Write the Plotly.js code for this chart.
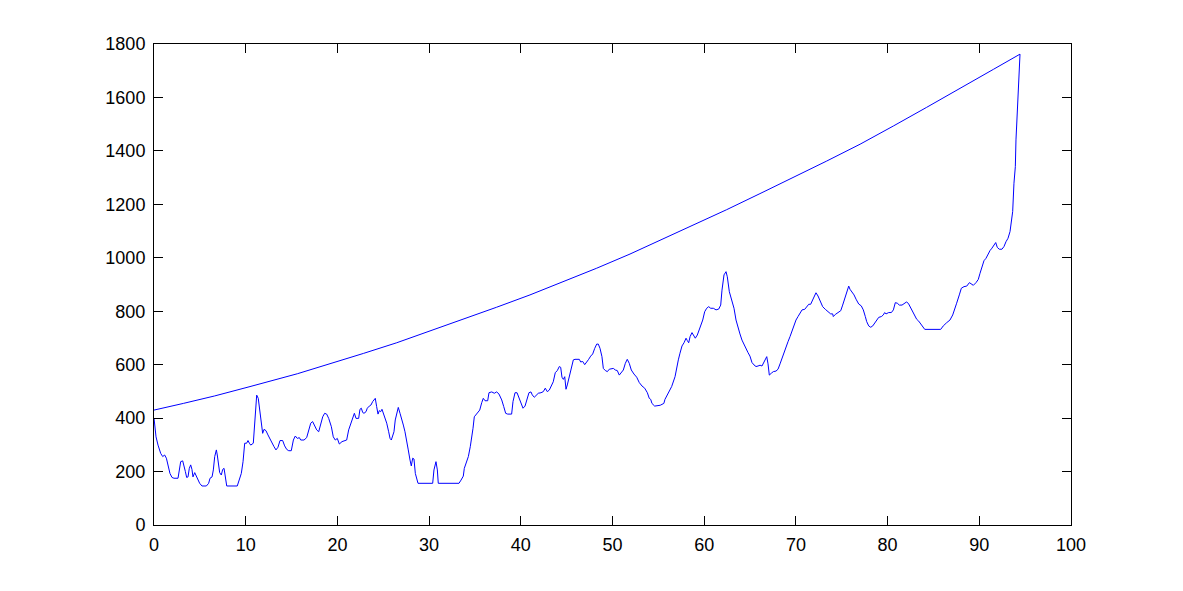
<!DOCTYPE html>
<html>
<head>
<meta charset="utf-8">
<script src="https://cdn.plot.ly/plotly-3.0.1.min.js"></script>
<style>html,body{margin:0;padding:0;background:#fff;}#chart{width:1183px;height:591px;}</style>
</head>
<body>
<div id="chart"></div>
<script>
// Lower path (traced left to right)
const lowerX = [0,0.07,0.22,0.44,0.73,0.95,1.16,1.35,1.53,1.74,1.96,2.18,2.62,2.76,2.91,3.13,3.27,3.42,3.56,3.71,3.85,4.0,4.14,4.25,4.44,4.62,4.80,4.98,5.23,5.71,5.96,6.11,6.33,6.47,6.62,6.80,6.90,7.05,7.16,7.34,7.49,7.64,7.78,7.93,9.08,9.34,9.52,9.71,9.89,10.1,10.25,10.4,10.55,10.83,10.98,11.2,11.37,11.56,11.7,11.85,12.0,12.21,12.43,12.65,12.87,13.09,13.3,13.52,13.74,14.03,14.25,14.47,14.69,14.97,15.2,15.41,15.63,15.85,16.0,16.36,16.65,16.87,17.09,17.3,17.52,17.74,17.96,18.18,18.4,18.61,18.83,19.05,19.34,19.55,19.77,19.99,20.21,20.5,21.01,21.23,21.45,21.67,21.85,22.03,22.32,22.46,22.61,22.76,22.9,23.12,23.26,23.48,23.66,23.85,24.13,24.28,24.43,24.57,24.72,24.86,25.0,25.16,25.38,25.59,25.74,25.88,26.03,26.17,26.31,26.47,26.64,26.83,27.01,27.19,27.37,27.56,27.73,27.92,28.06,28.21,28.35,28.5,28.65,28.79,30.39,30.53,30.75,30.9,31.0,33.26,33.48,33.73,33.84,34.06,34.28,34.49,34.65,34.79,34.93,35.08,35.3,35.52,35.74,35.91,36.1,36.39,36.53,36.83,37.11,37.37,37.62,37.92,38.14,38.35,38.57,39.0,39.15,39.37,39.59,39.8,40.02,40.24,40.46,40.68,40.89,41.11,41.25,41.47,41.69,41.91,42.2,42.45,42.67,42.89,43.11,43.33,43.54,43.76,43.98,44.2,44.35,44.49,44.64,44.79,44.93,45.07,45.29,45.51,45.73,45.91,46.38,46.53,46.75,46.97,47.18,47.4,47.62,47.84,48.06,48.28,48.45,48.64,48.85,49.0,49.22,49.44,49.65,49.87,50.09,50.31,50.52,50.74,50.96,51.18,51.4,51.61,51.83,52.05,52.34,52.64,52.92,53.22,53.51,53.8,54.01,54.17,54.3,54.6,55.2,55.6,55.72,56.09,56.45,56.82,57.0,57.18,57.36,57.58,57.8,58.02,58.16,58.31,58.46,58.67,58.82,59.03,59.25,59.47,59.69,59.84,60.05,60.27,60.49,60.71,61.0,61.29,61.58,61.8,61.94,62.16,62.38,62.52,62.74,63.03,63.25,63.47,63.69,63.9,64.12,64.34,64.56,64.78,64.99,65.21,65.43,65.65,65.87,66.09,66.3,66.45,66.67,66.82,66.96,67.1,67.32,67.54,67.83,68.05,68.27,68.48,68.7,68.92,69.14,69.36,69.57,69.79,70.01,70.23,70.45,70.67,70.96,71.18,71.4,71.61,71.83,72.05,72.19,72.41,72.63,72.92,73.21,73.5,73.79,74.01,74.08,74.3,74.59,74.89,75.1,75.32,75.54,75.76,75.9,76.12,76.34,76.56,76.85,77.13,77.35,77.57,77.72,77.94,78.16,78.38,78.59,78.81,79.03,79.32,79.53,79.68,79.83,80.12,80.41,80.63,80.84,81.06,81.28,81.57,81.87,82.08,82.3,82.52,82.74,82.95,83.17,83.39,83.61,83.83,84.05,85.79,86.07,86.44,86.8,87.1,87.32,87.53,87.82,88.04,88.33,88.63,88.92,89.13,89.35,89.64,89.89,90.08,90.29,90.51,90.73,90.95,91.17,91.38,91.6,91.79,91.96,92.18,92.47,92.69,92.91,93.13,93.35,93.49,93.64,93.78,93.93,94.0,94.14,94.29,94.44];
const lowerY = [400,380,330,299,268,256,262,250,218,193,178,175,175,206,237,240,225,200,178,180,212,225,208,180,196,181,168,156,146,146,156,175,180,206,256,281,262,218,196,187,208,212,168,146,146,175,193,237,306,306,316,306,299,306,393,486,474,418,381,343,358,353,337,321,306,293,281,291,316,316,296,283,278,278,318,333,324,327,318,318,327,356,381,387,374,356,349,381,405,418,415,399,368,330,318,324,303,312,318,356,381,405,418,399,399,433,437,421,418,424,437,445,449,462,474,443,415,428,424,433,418,399,381,349,324,318,337,349,393,418,440,418,390,374,349,318,281,243,221,250,247,193,168,156,156,206,237,206,156,156,168,183,212,231,256,293,324,362,405,412,421,430,458,474,465,465,495,498,493,498,490,468,443,418,415,415,462,495,495,474,455,437,445,474,495,498,487,478,487,493,495,499,512,499,505,520,536,570,578,593,590,553,545,555,508,524,555,593,618,620,620,610,612,600,608,620,632,640,661,677,677,661,630,586,578,574,583,586,586,580,578,561,570,580,605,620,605,580,565,553,533,520,512,495,474,470,455,445,448,455,470,493,518,555,593,618,643,670,682,699,690,682,705,720,711,699,711,732,749,767,798,811,817,811,811,805,808,823,879,936,948,929,873,836,811,767,736,715,692,674,657,645,632,608,599,593,595,598,595,605,620,630,603,561,568,574,576,583,603,624,649,670,686,705,727,749,767,780,795,805,807,817,826,826,842,861,869,857,839,817,807,798,790,790,780,788,796,802,823,848,873,894,882,871,861,845,827,820,805,780,761,745,740,745,755,767,777,780,786,795,790,795,795,805,832,830,823,823,830,835,827,811,795,782,770,763,752,742,732,732,745,757,767,786,805,830,861,886,892,894,907,902,897,907,919,942,967,989,998,1014,1027,1036,1048,1057,1039,1032,1032,1042,1060,1073,1098,1135,1173,1279,1341,1441,1553,1653,1760];
// Upper path (traced right to left)
const upperX = [94.44,91.53,87.89,84.26,80.62,77.0,73.36,69.72,66.08,62.45,58.81,55.2,51.91,48.28,44.64,41.0,37.37,33.73,30.1,26.47,22.83,19.19,15.63,10.47,6.62,3.2,0];
const upperY = [1762,1705,1633,1563,1493,1425,1362,1300,1240,1180,1122,1064,1014,961,911,861,815,770,724,682,642,605,566,518,483,455,430];
// Axis ticks
const xTicks = [0,10,20,30,40,50,60,70,80,90,100];
const yTicks = [0,200,400,600,800,1000,1200,1400,1600,1800];

const trace = {
  x: lowerX.concat(upperX),
  y: lowerY.concat(upperY),
  type: 'scatter', mode: 'lines',
  line: {color: '#0000ff', width: 1},
  hoverinfo: 'skip'
};
const axisCommon = {
  showgrid: false, zeroline: false, showline: true, linecolor: '#000', linewidth: 1,
  mirror: 'ticks', ticks: 'inside', ticklen: 9, tickcolor: '#000', tickwidth: 1,
  tickfont: {family: 'Liberation Sans, Arial, sans-serif', size: 18, color: '#000'}
};
const layout = {
  width: 1183, height: 591,
  margin: {l: 154, r: 112, t: 44, b: 66, pad: 0},
  paper_bgcolor: '#fff', plot_bgcolor: '#fff',
  showlegend: false,
  xaxis: Object.assign({}, axisCommon, {range: [0, 100], tickvals: xTicks, ticktext: xTicks.map(String), ticklabelstandoff: 3}),
  yaxis: Object.assign({}, axisCommon, {range: [0, 1800], tickvals: yTicks, ticktext: yTicks.map(String), ticklabelstandoff: 4})
};
Plotly.newPlot('chart', [trace], layout, {staticPlot: true, displayModeBar: false});
</script>
</body>
</html>
